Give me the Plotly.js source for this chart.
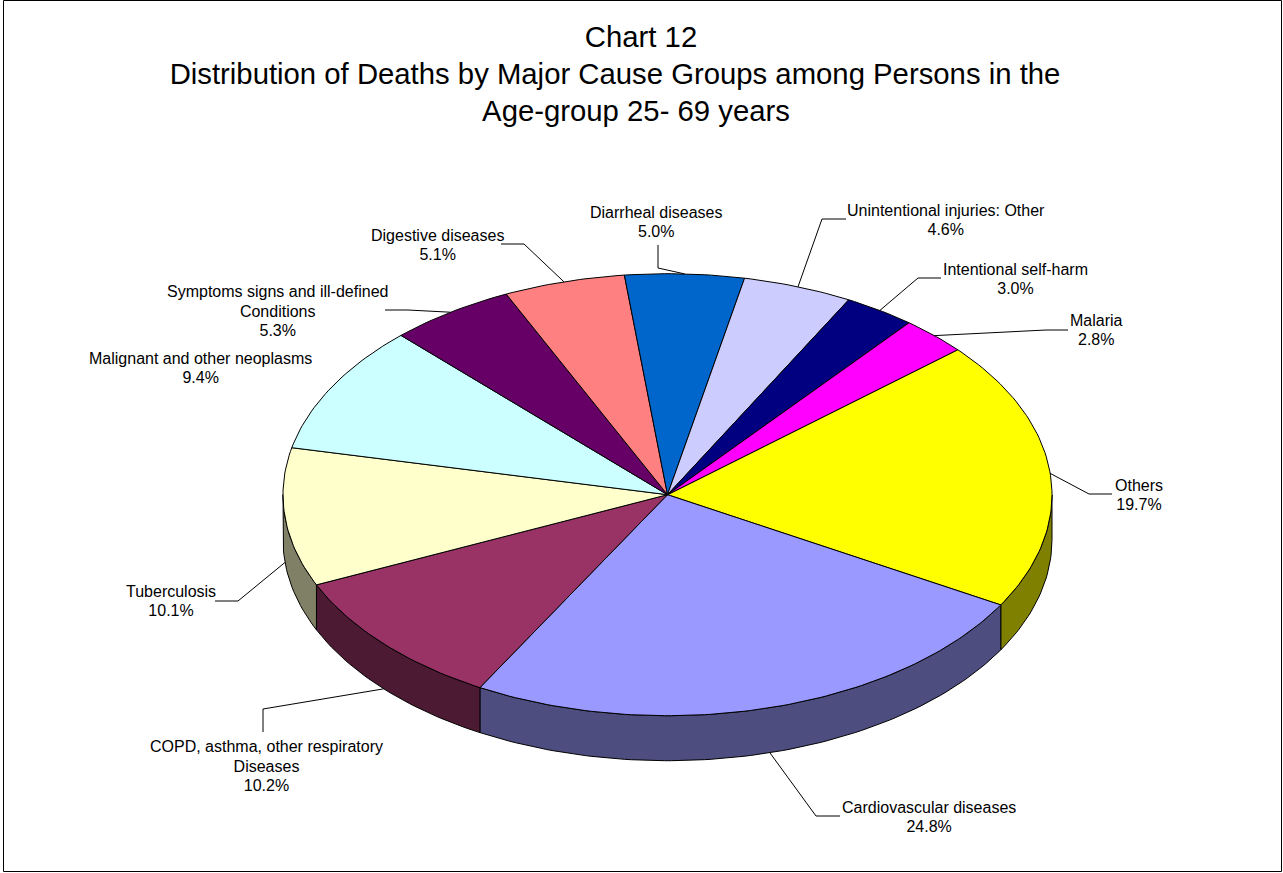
<!DOCTYPE html>
<html>
<head>
<meta charset="utf-8">
<script src="https://cdn.plot.ly/plotly-3.0.1.min.js"></script>
<style>html,body{margin:0;padding:0;background:#fff;overflow:hidden}</style>
</head>
<body>
<div id="chart" style="width:1283px;height:873px"></div>
<script>
const causes = ["Others","Cardiovascular diseases","COPD, asthma, other respiratory<br>Diseases","Tuberculosis","Malignant and other neoplasms","Symptoms signs and ill-defined<br>Conditions","Digestive diseases","Diarrheal diseases","Unintentional injuries: Other","Intentional self-harm","Malaria"];
const shares = [19.7,24.8,10.2,10.1,9.4,5.3,5.1,5.0,4.6,3.0,2.8];
const topColors = ["#FFFF00","#9999FF","#993366","#FFFFCC","#CCFFFF","#660066","#FF8080","#0066CC","#CCCCFF","#000080","#FF00FF"];
const wallColors = ["#808000","#4D4D80","#4D1A33","#808066","#668080","#330033","#804040","#003366","#666680","#000040","#800080"];

// Pie geometry (pixels on the full-page axes)
const CX = 667.5, CY = 494.7, RX = 384.5, RY = 221, DEPTH = 45, START = 49;
// Label centres and leader bends
const labelX = [1139,929,266,171,200,277,437,656,946,1015,1096];
const labelY = [494.5,816.5,766,601,367.5,311,244.5,221.5,219.5,278.5,329.5];
const leaderBends = [
  [[1089,494],[1112,494]],
  [[816,816],[840,816]],
  [[263,709],[263,732]],
  [[238,601],[215,601]],
  null,
  [[408,310],[385,310]],
  [[524,244],[501,244]],
  [[658,268],[658,245]],
  [[822,219],[846,219]],
  [[918,278],[941,278]],
  [[1046,330],[1068,330]]
];
const leaderOnWall = [false,true,true,true,false,false,false,false,false,false,false];

const rad = d => d * Math.PI / 180;
const px = d => CX + RX * Math.sin(rad(d));
const py = d => CY - RY * Math.cos(rad(d));
const total = shares.reduce((a, b) => a + b, 0);

const arc = (a, b) => {
  const out = [];
  const n = Math.max(2, Math.ceil(Math.abs(b - a)));
  for (let i = 0; i <= n; i++) out.push(a + (b - a) * i / n);
  return out;
};

const walls = [], tops = [], shapes = [], annotations = [];
let angle = START;
shares.forEach((v, i) => {
  const a0 = angle, a1 = angle + v / total * 360;
  angle = a1;
  const mid = (a0 + a1) / 2;

  const w0 = Math.max(a0, 90), w1 = Math.min(a1, 270);
  if (w1 > w0) {
    const t = arc(w0, w1);
    walls.push({
      type: "scatter", mode: "lines", fill: "toself", fillcolor: wallColors[i],
      x: t.map(px).concat(t.slice().reverse().map(px), [px(w0)]),
      y: t.map(py).concat(t.slice().reverse().map(d => py(d) + DEPTH), [py(w0)]),
      line: {color: "#000", width: 1}, hoverinfo: "skip", showlegend: false
    });
  }
  const t = arc(a0, a1);
  tops.push({
    type: "scatter", mode: "lines", fill: "toself", fillcolor: topColors[i],
    x: [CX].concat(t.map(px), [CX]),
    y: [CY].concat(t.map(py), [CY]),
    line: {color: "#000", width: 1}, name: causes[i].replace("<br>", " "),
    text: v.toFixed(1) + "%", hoverinfo: "name+text", showlegend: false
  });

  annotations.push({
    x: labelX[i], y: labelY[i], xref: "x", yref: "y", xanchor: "center", yanchor: "middle",
    showarrow: false, align: "center",
    text: causes[i] + "<br>" + v.toFixed(1) + "%",
    font: {family: "Liberation Sans, Arial, sans-serif", size: 16, color: "#000"}
  });

  if (leaderBends[i]) {
    const sx = px(mid), sy = py(mid) + (leaderOnWall[i] ? DEPTH : 0);
    const b = leaderBends[i];
    shapes.push({
      type: "path", xref: "x", yref: "y",
      path: `M${sx},${sy} L${b[0][0]},${b[0][1]} L${b[1][0]},${b[1][1]}`,
      line: {color: "#000", width: 1}
    });
  }
});

// chart frame
shapes.push({type: "rect", xref: "x", yref: "y", x0: 3.5, x1: 1281.5, y0: 0.5, y1: 871.5,
  line: {color: "#000", width: 1}, layer: "below"});

const layout = {
  width: 1283, height: 873,
  margin: {l: 0, r: 0, t: 0, b: 0},
  paper_bgcolor: "#fff", plot_bgcolor: "#fff",
  showlegend: false,
  title: {
    text: "Chart 12<br>Distribution of Deaths by Major Cause Groups among Persons in the<br>Age-group 25- 69 years",
    font: {family: "Liberation Sans, Arial, sans-serif", size: 29.3, color: "#000"},
    x: 615 / 1283, xanchor: "center", xref: "paper",
    y: 1 - 22 / 873, yanchor: "top", yref: "paper"
  },
  xaxis: {range: [0, 1283], visible: false, fixedrange: true},
  yaxis: {range: [873, 0], visible: false, fixedrange: true},
  shapes, annotations
};

Plotly.newPlot("chart", walls.concat(tops), layout, {displayModeBar: false, responsive: false}).then(() => {
  // Title lines sit 37px apart and the first and last are offset from the middle one.
  const offsets = [26, 0, 21];
  const titleLines = document.querySelectorAll(".gtitle tspan.line");
  titleLines.forEach((el, i) => {
    el.setAttribute("dy", (i * 37 + 25) + "px");
    el.setAttribute("dx", offsets[i] || 0);
  });
  // Label lines sit 19.5px apart, kept centred on the block.
  document.querySelectorAll(".annotation-text").forEach(txt => {
    const lines = txt.querySelectorAll("tspan.line");
    lines.forEach((el, i) => {
      el.setAttribute("dy", (i * 19.5 + (lines.length - 1) * 0.65) + "px");
    });
  });
});
</script>
</body>
</html>
